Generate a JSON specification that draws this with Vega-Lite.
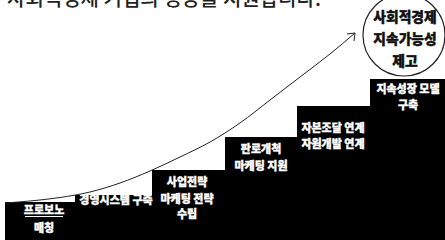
{
  "$schema": "https://vega.github.io/schema/vega-lite/v6.json",
  "width": 445,
  "height": 240,
  "autosize": {"type": "none"},
  "padding": 0,
  "background": "white",
  "config": {"view": {"stroke": null}, "axis": {"disable": true}},
  "datasets": {
    "steps": [
      {"step": 1, "x0": 5, "x1": 75, "top": 38},
      {"step": 2, "x0": 75, "x1": 152, "top": 45},
      {"step": 3, "x0": 152, "x1": 225, "top": 70},
      {"step": 4, "x0": 225, "x1": 297, "top": 103},
      {"step": 5, "x0": 297, "x1": 370, "top": 134},
      {"step": 6, "x0": 370, "x1": 445, "top": 161}
    ],
    "stepLabels": [
      {"label": "프로보노", "x": 44, "h": 29},
      {"label": "매칭", "x": 44, "h": 11},
      {"label": "경영시스템 구축", "x": 116, "h": 39},
      {"label": "사업전략", "x": 187, "h": 57},
      {"label": "마케팅 전략", "x": 187, "h": 40},
      {"label": "수립", "x": 187, "h": 25},
      {"label": "판로개척", "x": 261, "h": 90},
      {"label": "마케팅 지원", "x": 261, "h": 73},
      {"label": "자본조달 연계", "x": 333, "h": 111},
      {"label": "자원개발 연계", "x": 333, "h": 95},
      {"label": "지속성장 모델", "x": 408, "h": 150},
      {"label": "구축", "x": 408, "h": 134}
    ],
    "underline": [
      {"xa": 25, "xb": 63, "h": 23.5}
    ],
    "curve": [
      {"x": 5, "h": 37},
      {"x": 30, "h": 39},
      {"x": 60, "h": 42.5},
      {"x": 90, "h": 48},
      {"x": 120, "h": 57},
      {"x": 150, "h": 69},
      {"x": 180, "h": 83},
      {"x": 210, "h": 98},
      {"x": 240, "h": 117},
      {"x": 270, "h": 140},
      {"x": 300, "h": 163},
      {"x": 330, "h": 186},
      {"x": 355, "h": 207}
    ],
    "arrowArms": [
      {"xa": 355, "ha": 207, "xb": 347, "hb": 206},
      {"xa": 355, "ha": 207, "xb": 354, "hb": 199}
    ],
    "goal": [
      {"x": 404, "h": 205}
    ],
    "goalLabels": [
      {"label": "사회적경제", "x": 405, "h": 222},
      {"label": "지속가능성", "x": 405, "h": 200},
      {"label": "제고", "x": 405, "h": 178}
    ],
    "title": [
      {"label": "사회적경제 기업의 성장을 지원합니다.", "x": 7, "h": 234}
    ]
  },
  "layer": [
    {
      "data": {"name": "steps"},
      "mark": {"type": "rect", "color": "#000000"},
      "encoding": {
        "x": {"field": "x0", "type": "quantitative", "scale": {"domain": [0, 445], "nice": false, "zero": false}},
        "x2": {"field": "x1"},
        "y": {"field": "top", "type": "quantitative", "scale": {"domain": [0, 240], "nice": false, "zero": false}},
        "y2": {"datum": 0}
      }
    },
    {
      "data": {"name": "stepLabels"},
      "mark": {"type": "text", "color": "#ffffff", "stroke": "#ffffff", "strokeWidth": 0.35, "font": "Noto Sans CJK KR", "fontWeight": 900, "fontSize": 11, "align": "center", "baseline": "middle"},
      "encoding": {
        "x": {"field": "x", "type": "quantitative"},
        "y": {"field": "h", "type": "quantitative"},
        "text": {"field": "label"}
      }
    },
    {
      "data": {"name": "underline"},
      "mark": {"type": "rule", "color": "#ffffff", "strokeWidth": 1},
      "encoding": {
        "x": {"field": "xa", "type": "quantitative"},
        "x2": {"field": "xb"},
        "y": {"field": "h", "type": "quantitative"}
      }
    },
    {
      "data": {"name": "curve"},
      "mark": {"type": "line", "color": "#222222", "strokeWidth": 1, "interpolate": "monotone"},
      "encoding": {
        "x": {"field": "x", "type": "quantitative"},
        "y": {"field": "h", "type": "quantitative"}
      }
    },
    {
      "data": {"name": "arrowArms"},
      "mark": {"type": "rule", "color": "#222222", "strokeWidth": 1},
      "encoding": {
        "x": {"field": "xa", "type": "quantitative"},
        "y": {"field": "ha", "type": "quantitative"},
        "x2": {"field": "xb"},
        "y2": {"field": "hb"}
      }
    },
    {
      "data": {"name": "goal"},
      "mark": {"type": "arc", "radius": 41, "radius2": 0, "theta": 0, "theta2": 6.2832, "fill": null, "fillOpacity": 0, "stroke": "#222222", "strokeWidth": 1.2},
      "encoding": {
        "x": {"field": "x", "type": "quantitative"},
        "y": {"field": "h", "type": "quantitative"}
      }
    },
    {
      "data": {"name": "goalLabels"},
      "mark": {"type": "text", "color": "#111111", "stroke": "#111111", "strokeWidth": 0.4, "font": "Noto Sans CJK KR", "fontWeight": 900, "fontSize": 13.8, "align": "center", "baseline": "middle"},
      "encoding": {
        "x": {"field": "x", "type": "quantitative"},
        "y": {"field": "h", "type": "quantitative"},
        "text": {"field": "label"}
      }
    },
    {
      "data": {"name": "title"},
      "mark": {"type": "text", "color": "#222222", "font": "Noto Sans CJK KR", "fontWeight": 500, "fontSize": 20, "align": "left", "baseline": "alphabetic"},
      "encoding": {
        "x": {"field": "x", "type": "quantitative"},
        "y": {"field": "h", "type": "quantitative"},
        "text": {"field": "label"}
      }
    }
  ]
}
